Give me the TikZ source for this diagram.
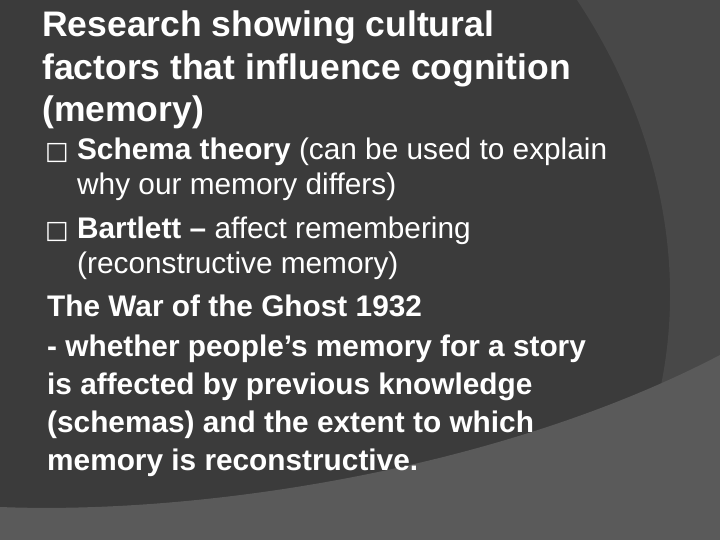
\documentclass[tikz,border=0pt]{standalone}
\usepackage{fontspec}
\setmainfont{Liberation Sans}
\newfontfamily\symf{DejaVu Sans}
\begin{document}
\begin{tikzpicture}[x=1pt,y=-1pt,
  ln/.style={anchor=base west,inner sep=0pt,text=white},
  ttl/.style={ln,font=\fontsize{35.5}{35.5}\selectfont\bfseries},
  bd/.style={ln,font=\fontsize{29.8}{29.8}\selectfont},
  bb/.style={ln,font=\fontsize{29.8}{29.8}\selectfont\bfseries}]
\fill[fill={rgb,255:red,59;green,59;blue,59}] (0,0) rectangle (720,540);
\fill[fill={rgb,255:red,72;green,72;blue,72}] (577,0) .. controls (650,110) and (690,250) .. (660,390) -- (720,390) -- (720,0) -- cycle;
\fill[fill={rgb,255:red,90;green,90;blue,90}] (0,507) .. controls (200,515) and (500,470) .. (720,355) -- (720,540) -- (0,540) -- cycle;
\useasboundingbox (0,0) rectangle (720,540);
\node[ttl] (t1) at (42,37) {Research showing cultural};
\node[ttl] (t2) at (42,80) {factors that influence cognition};
\node[ttl] (t3) at (42,122) {(memory)};
\node[bd] (b1) at (45,160) {{\symf\fontsize{25}{25}\selectfont□} \textbf{Schema theory} (can be used to explain};
\node[bd] (b1b) at (77,195) {why our memory differs)};
\node[bd] (b2) at (45,238) {{\symf\fontsize{25}{25}\selectfont□} \textbf{Bartlett –} affect remembering};
\node[bd] (b2b) at (77,273) {(reconstructive memory)};
\node[bb] (p1) at (47,316) {The War of the Ghost 1932};
\node[bb] (p2) at (47,356) {- whether people’s memory for a story};
\node[bb] (p3) at (47,394) {is affected by previous knowledge};
\node[bb] (p4) at (47,432) {(schemas) and the extent to which};
\node[bb] (p5) at (47,470) {memory is reconstructive.};
\end{tikzpicture}
\end{document}
